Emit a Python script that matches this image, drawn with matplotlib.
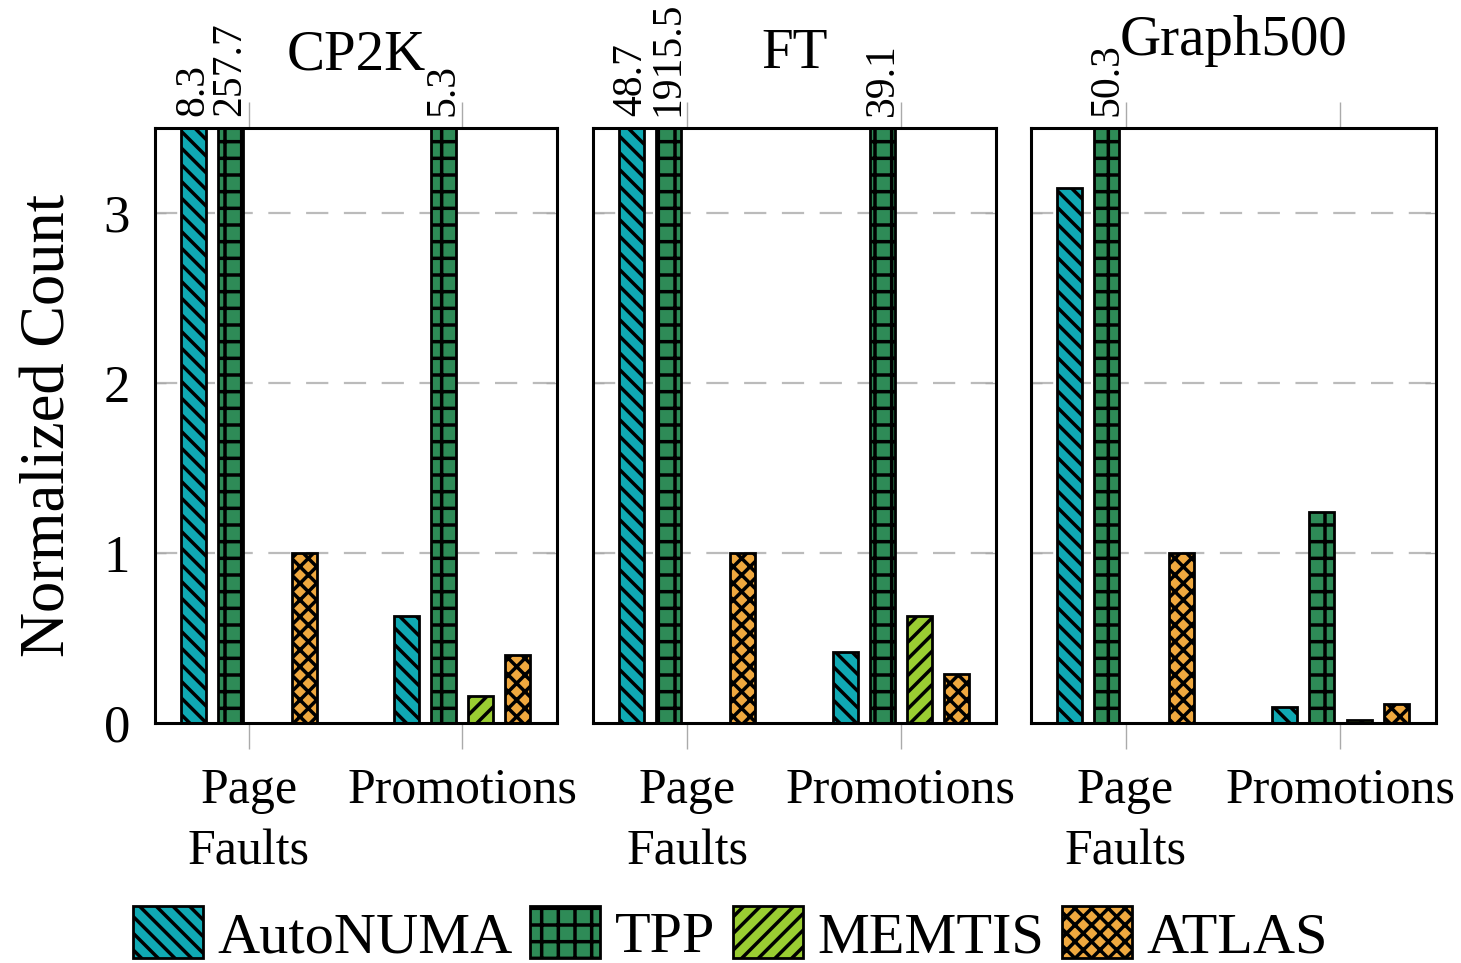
import matplotlib
matplotlib.use('Agg')
import matplotlib.pyplot as plt
from matplotlib.patches import Patch
import numpy as np

plt.rcParams['font.family'] = ['Liberation Serif', 'DejaVu Serif']
plt.rcParams['hatch.linewidth'] = 2.5

benchmarks = ['CP2K', 'FT', 'Graph500']
categories = ['Page\nFaults', 'Promotions']
series_names = ['AutoNUMA', 'TPP', 'MEMTIS', 'ATLAS']

# per benchmark: [Page Faults, Promotions]
autonuma = [[8.3, 0.63], [48.7, 0.42], [3.15, 0.094]]
tpp = [[257.7, 5.3], [1915.5, 39.1], [50.3, 1.24]]
memtis = [[0.0, 0.16], [0.0, 0.63], [0.0, 0.015]]
atlas = [[1.0, 0.40], [1.0, 0.29], [1.0, 0.11]]

yticks = [0, 1, 2, 3]

series_data = [autonuma, tpp, memtis, atlas]
colors = ['#10a9b3', '#2e8b57', '#9acd32', '#efa83f']
hatches = ['\\\\', '+', '//', 'xx']

W, H = 1461, 963
fig = plt.figure(figsize=(W / 100, H / 100), dpi=100)

panels_px = [(155, 557), (593, 996), (1031, 1436)]
top_px, bot_px = 128, 723
title_base_px = [69, 68, 55]
YMAX = 3.5
bw = 0.117
step = 0.174

axes = []
for bi, (l, r) in enumerate(panels_px):
    ax = fig.add_axes([l / W, 1 - bot_px / H, (r - l) / W, (bot_px - top_px) / H])
    axes.append(ax)
    x = np.arange(len(categories))
    for si in range(len(series_names)):
        vals = [series_data[si][bi][ci] for ci in range(len(categories))]
        xs = x + (si - 1.5) * step
        ax.bar(xs, vals, width=bw, color=colors[si], edgecolor='black',
               linewidth=2.0, hatch=hatches[si], zorder=3)
        for xv, v in zip(xs, vals):
            if v > YMAX:
                ax.annotate(f'{v:.1f}', xy=(xv, YMAX), xytext=(0, 9),
                            textcoords='offset points', rotation=90,
                            ha='center', va='bottom', fontsize=30,
                            annotation_clip=False)
    ax.set_xlim(-0.44, 1.445)
    ax.set_ylim(0, YMAX)
    ax.set_yticks(yticks)
    ax.set_xticks(x)
    ax.set_xticklabels(categories, fontsize=36, linespacing=1.42)
    ax.tick_params(axis='x', which='both', direction='out', length=19,
                   width=1.0, color='#aaaaaa', top=True, bottom=True, pad=13)
    ax.tick_params(axis='y', which='both', direction='in', length=8,
                   width=1.0, color='#aaaaaa', left=True, right=True,
                   labelsize=38, pad=18)
    if bi > 0:
        ax.tick_params(axis='y', labelleft=False)
    for yv in yticks[1:]:
        ax.axhline(yv, color='#bbbbbb', lw=1.6, dashes=(10, 7), zorder=1)
    for sp in ax.spines.values():
        sp.set_linewidth(2.2)
        sp.set_zorder(5)
    fig.text((l + r) / 2 / W, 1 - title_base_px[bi] / H, benchmarks[bi],
             ha='center', va='baseline', fontsize=41)

axes[0].set_ylabel('Normalized Count', fontsize=45, labelpad=18)

handles = [Patch(facecolor=colors[i], edgecolor='black', hatch=hatches[i],
                 linewidth=2.0, label=series_names[i]) for i in range(4)]
fig.legend(handles=handles, loc='center', bbox_to_anchor=(0.5, 1 - 935 / H),
           ncol=4, frameon=False, fontsize=42, handlelength=1.2,
           handleheight=1.0, handletextpad=0.25, columnspacing=0.3,
           borderaxespad=0, borderpad=0)

fig.savefig('out.png', dpi=100)
